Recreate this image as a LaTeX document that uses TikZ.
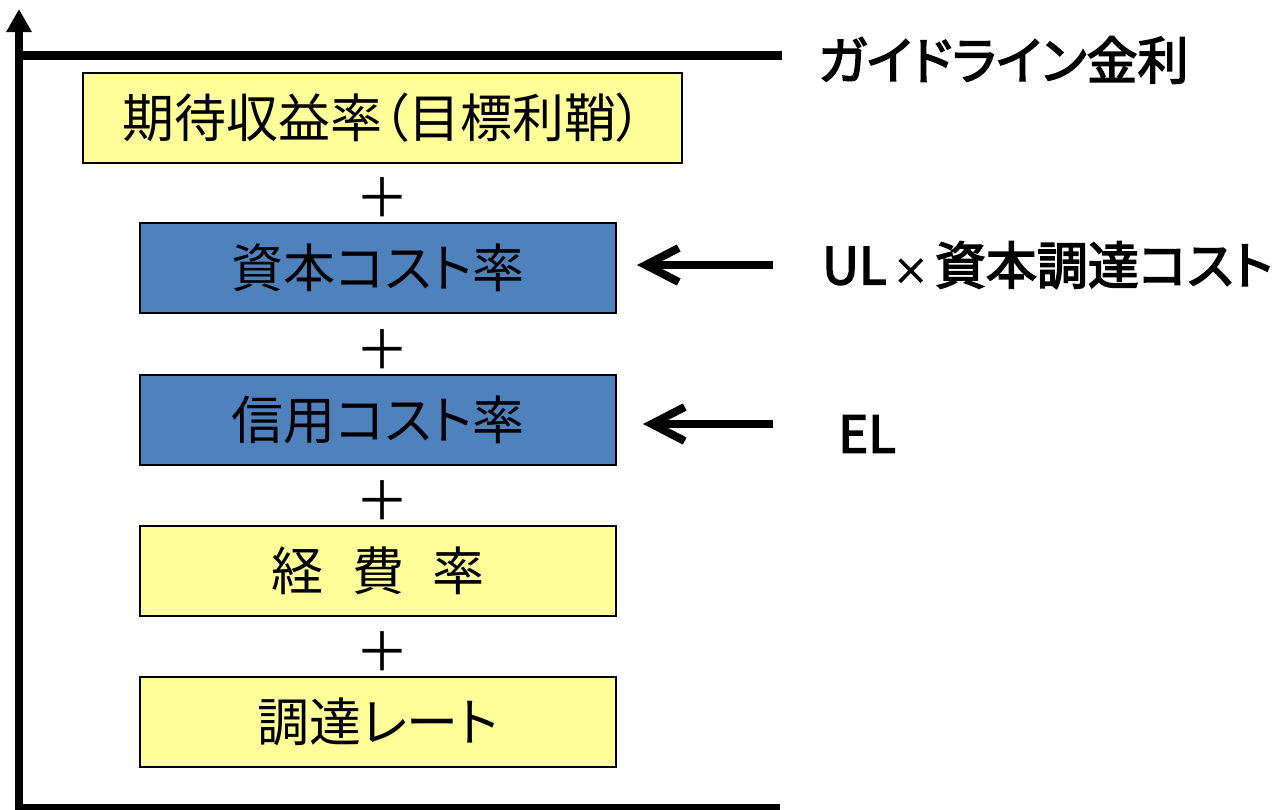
\documentclass[tikz,border=0pt]{standalone}
\usepackage{fontspec}
\newfontfamily\jp[RawFeature=+palt]{Noto Sans CJK JP}
\newfontfamily\jpfb[RawFeature=+palt,FakeBold=3]{Noto Sans CJK JP}
\usetikzlibrary{arrows.meta}
\definecolor{boxyellow}{RGB}{255,255,153}
\definecolor{boxblue}{RGB}{79,129,189}
\begin{document}
\begin{tikzpicture}[x=1pt,y=-1pt,
  box/.style={draw=black,line width=2pt,minimum width=476pt,minimum height=90pt,inner sep=0pt,font=\jp\fontsize{52}{60}\selectfont},
  ybox/.style={box,fill=boxyellow},
  bbox/.style={box,fill=boxblue},
  plus/.style={font=\jp\fontsize{54}{60}\selectfont,inner sep=0pt},
  lab/.style={font=\jpfb\fontsize{51}{60}\selectfont,anchor=west,inner sep=0pt},
  axisline/.style={line width=8pt},
  ptr/.style={line width=8pt,-{Straight Barb[length=33pt,width=34pt]}}]
\useasboundingbox (0,0) rectangle (1283,809);
% axes
\coordinate (ax0) at (19,808);
\coordinate (ax1) at (19,9);
\coordinate (axr) at (780,808);
\draw[axisline,-{Triangle[length=23pt,width=24pt]}] (ax0) -- (ax1);
\draw[axisline] (15,808) -- (axr);
% guideline
\coordinate (g0) at (23,55.5);
\coordinate (g1) at (782,55.5);
\draw[line width=9pt] (g0) -- (g1);
\node[lab] (gl) at (818,60) {ガイドライン金利};
% boxes
\node[ybox,minimum width=599pt] (b1) at (382.5,118) {期待収益率（目標利鞘）};
\node[plus] (p1) at (382,198) {＋};
\node[bbox] (b2) at (378,268) {資本コスト率};
\node[plus] (p2) at (382,350) {＋};
\node[bbox] (b3) at (378,419.5) {信用コスト率};
\node[plus] (p3) at (382,501) {＋};
\node[ybox] (b4) at (378,571) {経\hspace{0.55em}費\hspace{0.55em}率};
\node[plus] (p4) at (382,652) {＋};
\node[ybox] (b5) at (378,722) {調達レート};
% right labels and arrows
\node[lab] (ul) at (822,265) {UL\hspace{0.12em}{\fontsize{36}{40}\selectfont ×}\hspace{0.12em}資本調達コスト};
\node[lab] (el) at (838,434) {EL};
\coordinate (a1s) at (773,265);
\coordinate (a1e) at (637,265);
\coordinate (a2s) at (773,424);
\coordinate (a2e) at (643,424);
\draw[ptr] (a1s) -- (a1e);
\draw[ptr] (a2s) -- (a2e);
\end{tikzpicture}
\end{document}
